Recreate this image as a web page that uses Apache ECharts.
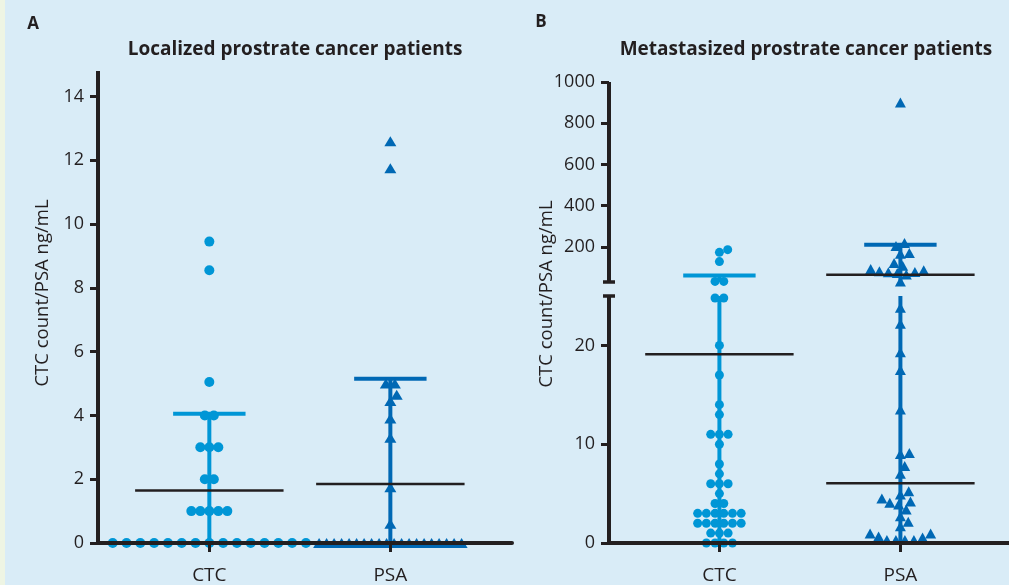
<!DOCTYPE html>
<html><head><meta charset="utf-8">
<script src="https://cdn.jsdelivr.net/npm/echarts@6/dist/echarts.min.js"></script>
<style>html,body{margin:0;padding:0;background:#eef5e4;} #c{width:1009px;height:585px;}</style>
</head><body><div id="c"></div>
<script>
// ---------- data ----------
const categories = ['CTC', 'PSA'];
// Panel A: localized
const ctcLocalized = [0,0,0,0,0,0,0,0,0,0,0,0,0,0,0, 1,1,1,1,1, 2,2, 3,3,3, 4,4, 5.05, 8.55, 9.45];
const psaLocalized = [0,0,0,0,0,0,0,0,0,0,0,0,0,0,0,0,0,0,0,0, 0.6, 1.75, 3.3, 3.9, 4.45, 4.65, 5.0, 5.0, 11.75, 12.6];
const meanLocalized = [1.65, 1.85];
const sdTopLocalized = [4.05, 5.15];
const ticksLocalized = [0, 2, 4, 6, 8, 10, 12, 14];
// Panel B: metastasized
const ctcMetastasized = [0,0,0,0, 1,1,1, 2,2,2,2,2,2, 3,3,3,3,3,3, 4,4, 5, 6,6,6, 7, 8, 10, 11,11,11, 13, 14, 17, 20, 24.8, 24.8, 33, 33, 129, 174, 187];
const psaMetastasized = [0.3,0.3,0.3,0.3, 0.55, 0.65, 0.95, 0.95, 1.7, 2.15, 2.7, 3.4, 3.9, 4.07, 4.2, 4.5, 4.9, 5.25, 7.0, 7.8, 9.0, 9.1, 13.5, 17.5, 19.3, 22.2, 23.8, 33, 66, 74, 77, 79, 82, 87, 93, 109, 122, 167, 171, 205, 219, 900];
const meanMetastasized = [19.1, 65];
const sdTopMetastasized = [61, 211];
const extraLineMetastasized = [null, 6.05];
const ticksLowerB = [0, 10, 20];
const ticksUpperB = [200, 400, 600, 800, 1000];

// ---------- styles ----------
const INK = '#231f20';
const C_CTC = '#0096d6';
const C_PSA = '#0068b4';
const FONT = "'Open Sans', 'Noto Sans', sans-serif";
const BREAK_LO = 25, BREAK_HI = 30;

function yAxisCfg(gridIndex, min, max, ticks) {
  return { type: 'value', gridIndex, min, max, z: 6,
    axisLine: { show: true, lineStyle: { color: INK, width: 4, cap: 'butt' } },
    axisTick: { show: true, length: 8, lineStyle: { color: INK, width: 3 }, customValues: ticks },
    axisLabel: { show: true, customValues: ticks, formatter: v => String(v), margin: 14, fontSize: 18, color: INK, fontFamily: FONT },
    splitLine: { show: false } };
}
function xAxisCfg(gridIndex, min, max, show) {
  return { type: 'value', gridIndex, min, max, z: 6, show,
    axisLine: { show: true, onZero: false, lineStyle: { color: INK, width: 4 } },
    axisTick: { show: true, length: 9, lineStyle: { color: INK, width: 3 }, customValues: [1, 2] },
    axisLabel: { show: true, customValues: [1, 2], formatter: v => categories[Math.round(v) - 1],
      margin: 23, fontSize: 19, color: INK, fontFamily: FONT },
    splitLine: { show: false } };
}
const gridBase = { containLabel: false, outerBoundsMode: 'none' };

const chart = echarts.init(document.getElementById('c'), null, { renderer: 'canvas' });
const baseOption = {
  animation: false,
  backgroundColor: '#d9ecf7',
  grid: [
    Object.assign({ left: 98, top: 71, width: 414, height: 472 }, gridBase),
    Object.assign({ left: 609, top: 296, width: 400, height: 247 }, gridBase),
    Object.assign({ left: 609, top: 82, width: 400, height: 200 }, gridBase)
  ],
  xAxis: [xAxisCfg(0, 0.385, 2.672, true), xAxisCfg(1, 0.39, 2.6, true), xAxisCfg(2, 0.39, 2.6, false)],
  yAxis: [yAxisCfg(0, 0, 14.8, ticksLocalized), yAxisCfg(1, 0, BREAK_LO, ticksLowerB), yAxisCfg(2, BREAK_HI, 1000, ticksUpperB)],
  series: []
};
chart.setOption(baseOption);

// ---------- beeswarm layout in pixel space ----------
function swarm(vals, pys, d, dZero) {
  const idx = vals.map((v, i) => i).sort((a, b) => vals[a] - vals[b]);
  const xs = new Array(vals.length).fill(0);
  const placed = [];
  let k = 0;
  while (k < idx.length) {
    let j = k;
    while (j < idx.length && vals[idx[j]] === vals[idx[k]]) j++;
    const group = idx.slice(k, j);
    const sp = (vals[group[0]] === 0 && dZero) ? dZero : d;
    const gp = [];
    for (const i of group) {
      const y = pys[i];
      const others = placed.map(p => ({ x: p.x, y: p.y, r: d })).concat(gp.map(p => ({ x: p.x, y: p.y, r: sp })));
      const cand = [0];
      for (const q of others) {
        const dy = Math.abs(q.y - y);
        if (dy < q.r) { const dx = Math.sqrt(q.r * q.r - dy * dy); cand.push(q.x + dx, q.x - dx); }
      }
      cand.sort((a, b) => Math.abs(a) - Math.abs(b) || b - a);
      let chosen = 0;
      for (const c of cand) {
        if (others.every(q => (q.x - c) ** 2 + (q.y - y) ** 2 >= q.r * q.r - 0.01)) { chosen = c; break; }
      }
      gp.push({ x: chosen, y });
    }
    if (gp.length > 1) {
      const m = gp.reduce((s, p) => s + p.x, 0) / gp.length;
      const ok = gp.every(p => placed.every(q => (q.x - (p.x - m)) ** 2 + (q.y - p.y) ** 2 >= d * d - 0.01));
      if (ok) gp.forEach(p => { p.x -= m; });
    }
    group.forEach((i, n) => { xs[i] = gp[n].x; });
    placed.push(...gp);
    k = j;
  }
  return xs;
}

const pxPerUnitA = chart.convertToPixel({ xAxisIndex: 0 }, 2) - chart.convertToPixel({ xAxisIndex: 0 }, 1);
const pxPerUnitB = chart.convertToPixel({ xAxisIndex: 1 }, 2) - chart.convertToPixel({ xAxisIndex: 1 }, 1);
const axisB = v => (v > BREAK_LO ? 2 : 1);

function pointsA(vals, center, d, dZero) {
  const pys = vals.map(v => chart.convertToPixel({ yAxisIndex: 0 }, v));
  const off = swarm(vals, pys, d, dZero);
  return vals.map((v, i) => [center + off[i] / pxPerUnitA, v]);
}
function pointsB(vals, center, d) {
  const pys = vals.map(v => chart.convertToPixel({ yAxisIndex: axisB(v) }, v));
  const off = swarm(vals, pys, d, null);
  const lo = [], hi = [];
  vals.forEach((v, i) => { (axisB(v) === 2 ? hi : lo).push([center + off[i] / pxPerUnitB, v]); });
  return { lo, hi };
}

const series = [];
function scatter(gi, data, symbol, size, color) {
  series.push({ type: 'scatter', xAxisIndex: gi, yAxisIndex: gi, data, symbol, symbolSize: size,
    itemStyle: { color, opacity: 1 }, z: 3, silent: true });
}
function seg(gi, p1, p2, color, width, z) {
  series.push({ type: 'line', xAxisIndex: gi, yAxisIndex: gi, data: [p1, p2], symbol: 'none',
    lineStyle: { color, width, cap: 'butt' }, z, silent: true });
}
const HALF_MEAN = 0.41, HALF_BAR = 0.2;

// Panel A
[[ctcLocalized, 'circle', 10, C_CTC, 9, 13.8], [psaLocalized, 'triangle', [12, 10], C_PSA, 9, 7.5]].forEach((s, k) => {
  const c = k + 1;
  seg(0, [c, 0], [c, sdTopLocalized[k]], s[3], 4, 2);
  seg(0, [c - HALF_BAR, sdTopLocalized[k]], [c + HALF_BAR, sdTopLocalized[k]], s[3], 4, 2);
  scatter(0, pointsA(s[0], c, s[4], s[5]), s[1], s[2], s[3]);
  seg(0, [c - HALF_MEAN, meanLocalized[k]], [c + HALF_MEAN, meanLocalized[k]], INK, 2.5, 4);
});

// Panel B
[[ctcMetastasized, 'circle', 9, C_CTC, 8.7], [psaMetastasized, 'triangle', [11, 10], C_PSA, 9]].forEach((s, k) => {
  const c = k + 1;
  const top = sdTopMetastasized[k];
  seg(1, [c, 0], [c, Math.min(top, BREAK_LO)], s[3], 4, 2);
  if (top > BREAK_HI) {
    seg(2, [c, BREAK_HI], [c, top], s[3], 4, 2);
    seg(2, [c - HALF_BAR, top], [c + HALF_BAR, top], s[3], 4, 2);
  } else {
    seg(1, [c - HALF_BAR, top], [c + HALF_BAR, top], s[3], 4, 2);
  }
  const pts = pointsB(s[0], c, s[4]);
  scatter(1, pts.lo, s[1], s[2], s[3]);
  scatter(2, pts.hi, s[1], s[2], s[3]);
  [meanMetastasized[k], extraLineMetastasized[k]].forEach(m => {
    if (m == null) return;
    const gi = axisB(m);
    seg(gi, [c - HALF_MEAN, m], [c + HALF_MEAN, m], INK, 2.5, 4);
  });
});

// axis break caps & texts
const axisXB = chart.convertToPixel({ xAxisIndex: 1 }, 0.39);
const yBreakHi = chart.convertToPixel({ yAxisIndex: 2 }, BREAK_HI);
const yBreakLo = chart.convertToPixel({ yAxisIndex: 1 }, BREAK_LO);
const txt = (x, y, text, size, weight, rot) => ({
  type: 'text', x, y, rotation: rot || 0, z: 10,
  style: { text, fill: INK, fontSize: size, fontWeight: weight, fontFamily: FONT,
    align: 'center', verticalAlign: 'middle', textAlign: 'center', textVerticalAlign: 'middle' }
});
const graphic = [
  { type: 'rect', shape: { x: 0, y: 0, width: 5, height: 585 }, style: { fill: '#eef5e4' }, z: 10 },
  { type: 'line', shape: { x1: axisXB - 6, y1: yBreakHi, x2: axisXB + 6, y2: yBreakHi }, style: { stroke: INK, lineWidth: 3.5 }, z: 10 },
  { type: 'line', shape: { x1: axisXB - 6, y1: yBreakLo, x2: axisXB + 6, y2: yBreakLo }, style: { stroke: INK, lineWidth: 3.5 }, z: 10 },
  txt(33, 24, 'A', 17, 'bold'),
  txt(541, 22, 'B', 17, 'bold'),
  txt(295, 50, 'Localized prostrate cancer patients', 19, 'bold'),
  txt(806, 50, 'Metastasized prostrate cancer patients', 19, 'bold'),
  txt(43, 293, 'CTC count/PSA ng/mL', 18.5, 'normal', Math.PI / 2),
  txt(547, 294, 'CTC count/PSA ng/mL', 18.5, 'normal', Math.PI / 2)
];

chart.setOption({ series, graphic });
</script>
</body></html>
